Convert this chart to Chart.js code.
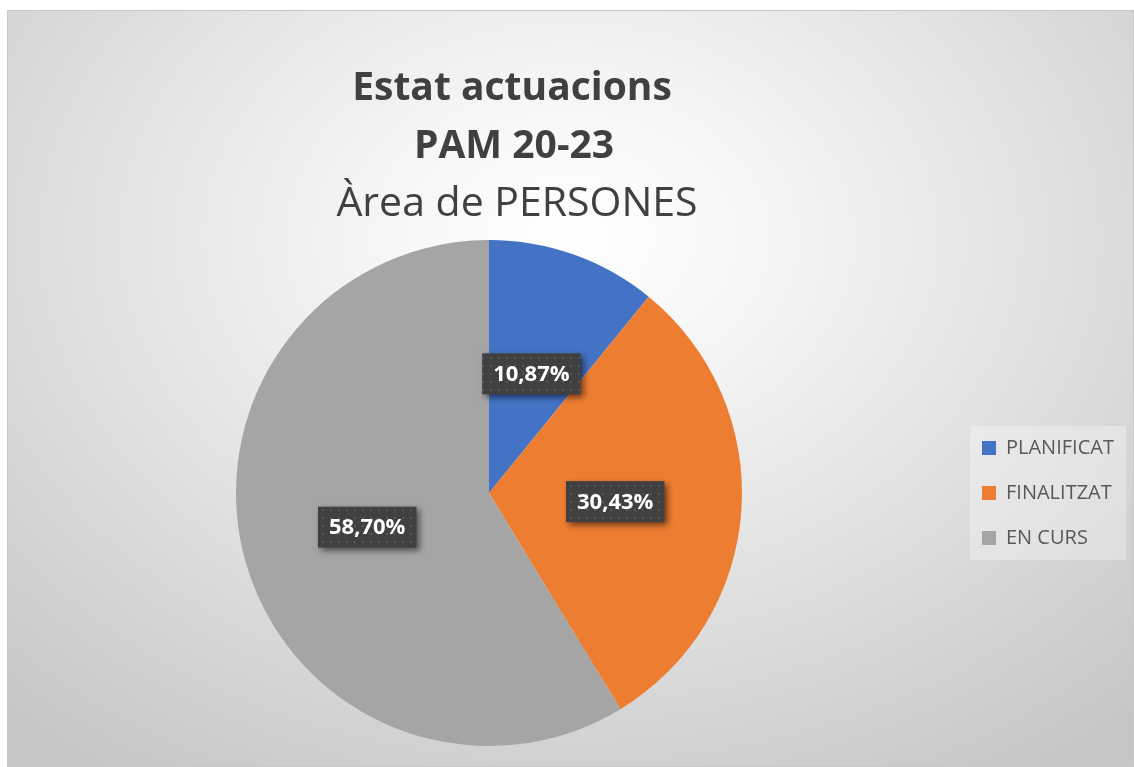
<!DOCTYPE html>
<html>
<head>
<meta charset="utf-8">
<script src="https://cdn.jsdelivr.net/npm/chart.js@4"></script>
<style>
    body { margin: 0; background: #ffffff; }
    #wrap {
        position: absolute; left: 7px; top: 10px; width: 1127px; height: 757px;
        box-sizing: border-box; border: 1px solid #c8c8c8;
        background: radial-gradient(ellipse 75% 85% at 50% 30%, #ffffff 0%, #f6f6f6 22%, #e2e2e2 55%, #d2d2d2 80%, #c6c6c6 100%);
    }
</style>
</head>
<body>
<div id="wrap"><canvas id="chart"></canvas></div>
<script>
let categories = ["PLANIFICAT", "FINALITZAT", "EN CURS"];
let percentages = [10.87, 30.43, 58.70];
let labelTexts = ["10,87%", "30,43%", "58,70%"];
let titleLines = ["Estat actuacions", "PAM 20-23"];
let subtitleLine = "Àrea de PERSONES";
let colors = ["#4472C4", "#ED7D31", "#A5A5A5"];

let context = document.getElementById("chart").getContext("2d");

// title drawn by hand: Excel centres it a bit right of the pie
let titlePlugin = {
    id: "excelTitle",
    afterDraw(chart) {
        let ctx = chart.ctx;
        ctx.save();
        ctx.fillStyle = "#404040";
        ctx.textAlign = "center";
        ctx.textBaseline = "alphabetic";
        ctx.font = "bold 39px 'Open Sans'";
        ctx.fillText(titleLines[0], 504, 89);
        ctx.fillText(titleLines[1], 506, 147);
        ctx.font = "41px 'Open Sans'";
        ctx.fillText(subtitleLine, 509, 205);
        ctx.restore();
    }
};

let dotPattern = (function () {
    let c = document.createElement("canvas");
    c.width = 8;
    c.height = 8;
    let g = c.getContext("2d");
    g.fillStyle = "#404040";
    g.fillRect(0, 0, 8, 8);
    g.fillStyle = "#555555";
    g.fillRect(2, 2, 2, 2);
    return context.createPattern(c, "repeat");
})();

let labelPlugin = {
    id: "boxLabels",
    afterDatasetsDraw(chart) {
        let ctx = chart.ctx;
        let meta = chart.getDatasetMeta(0);
        ctx.save();
        ctx.font = "bold 22px 'Open Sans'";
        meta.data.forEach(function (arc, i) {
            let p = arc.tooltipPosition();
            let w = ctx.measureText(labelTexts[i]).width + 22;
            let h = 41;
            ctx.save();
            ctx.shadowColor = "rgba(0,0,0,0.55)";
            ctx.shadowBlur = 6;
            ctx.shadowOffsetX = 3;
            ctx.shadowOffsetY = 3;
            ctx.fillStyle = dotPattern;
            ctx.fillRect(p.x - w / 2, p.y - h / 2, w, h);
            ctx.restore();
            ctx.fillStyle = "#ffffff";
            ctx.textAlign = "center";
            ctx.textBaseline = "middle";
            ctx.fillText(labelTexts[i], p.x, p.y + 1);
        });
        ctx.restore();
    }
};

let legendBack = {
    id: "legendBack",
    beforeDraw(chart) {
        let lg = chart.legend;
        if (!lg || !lg.legendHitBoxes.length) return;
        let boxes = lg.legendHitBoxes;
        let ctx = chart.ctx;
        ctx.save();
        ctx.fillStyle = "rgba(255,255,255,0.3)";
        ctx.fillRect(boxes[0].left - 12, boxes[0].top - 12, 156, boxes[boxes.length - 1].top + boxes[0].height - boxes[0].top + 24);
        ctx.restore();
    }
};

let chart = new Chart(context, {
    type: "pie",
    data: {
        labels: categories,
        datasets: [{
            data: percentages,
            backgroundColor: colors,
            borderWidth: 0
        }]
    },
    options: {
        responsive: true,
        maintainAspectRatio: false,
        animation: false,
        rotation: 0,
        layout: {
            padding: { left: 13, right: 16, top: 229, bottom: 20 }
        },
        plugins: {
            title: { display: false },
            tooltip: { enabled: false },
            legend: {
                position: "right",
                maxWidth: 160,
                labels: {
                    boxWidth: 14,
                    boxHeight: 14,
                    padding: 25,
                    color: "#595959",
                    font: { family: "'Open Sans'", size: 20 }
                }
            }
        }
    },
    plugins: [legendBack, titlePlugin, labelPlugin]
});
</script>
</body>
</html>
